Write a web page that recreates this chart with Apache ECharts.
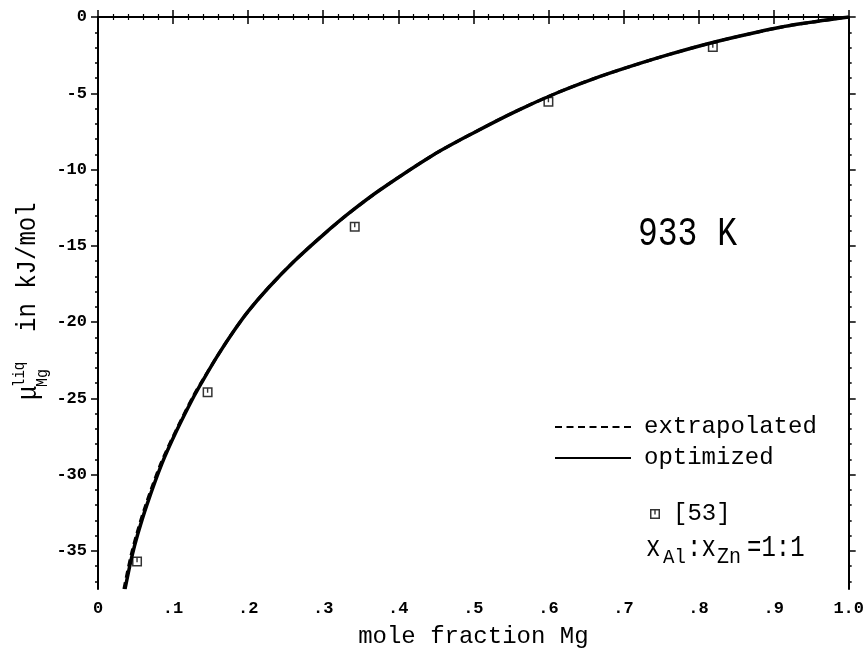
<!DOCTYPE html>
<html>
<head>
<meta charset="utf-8">
<script src="https://cdn.jsdelivr.net/npm/echarts@6/dist/echarts.min.js"></script>
<style>
  html, body { margin: 0; padding: 0; background: #fff; }
  #chart { width: 867px; height: 657px; }
</style>
</head>
<body>
<div id="chart"></div>
<script>
// Chemical potential of Mg in the liquid Al-Mg-Zn alloy at 933 K, x(Al):x(Zn) = 1:1
const FONT = 'Liberation Mono';

// optimized curve: mole fraction Mg and mu in kJ/mol
const optimizedX = [0.036, 0.045, 0.053, 0.065, 0.085, 0.105, 0.128, 0.14, 0.16, 0.18, 0.2, 0.227, 0.262, 0.30, 0.336,
                    0.375, 0.446, 0.5, 0.558, 0.615, 0.66, 0.704, 0.76, 0.815, 0.87, 0.925, 1.0];
const optimizedY = [-37.5, -35.4, -33.9, -32.0, -29.3, -27.1, -24.85, -23.8, -22.15, -20.65, -19.3, -17.75, -15.98, -14.28, -12.8,
                    -11.36, -9.06, -7.6, -6.15, -4.9, -4.05, -3.32, -2.47, -1.72, -1.08, -0.53, 0];

// extrapolated curve (nearly coincident with the optimized one)
const extrapolatedX = [0.0345, 0.0435, 0.0515, 0.0635, 0.0835, 0.104, 0.127, 0.1395, 0.16, 0.18, 0.2, 0.227, 0.262, 0.30, 0.336,
                       0.375, 0.446, 0.5, 0.558, 0.615, 0.66, 0.704, 0.76, 0.815, 0.87, 0.925, 1.0];
const extrapolatedY = [-37.5, -35.4, -33.9, -32.0, -29.3, -27.1, -24.85, -23.8, -22.15, -20.65, -19.3, -17.75, -15.98, -14.28, -12.8,
                       -11.36, -9.06, -7.6, -6.15, -4.9, -4.05, -3.32, -2.47, -1.72, -1.08, -0.53, 0];

// measured points, reference [53]
const measuredX = [0.052, 0.146, 0.342, 0.600, 0.819];
const measuredY = [-35.7, -24.6, -13.75, -5.55, -1.97];

// axis ticks
const yMajorTicks = [0, -5, -10, -15, -20, -25, -30, -35];
const yMinorTicks = [-1, -2, -3, -4, -6, -7, -8, -9, -11, -12, -13, -14, -16, -17, -18, -19,
                     -21, -22, -23, -24, -26, -27, -28, -29, -31, -32, -33, -34, -36, -37];

const zip = (xs, ys) => xs.map((x, i) => [x, ys[i]]);

// square marker with a short tick inside
const squareSymbol = 'path://M0,0H10V10H0Z M1.5,1.5V8.5H8.5V1.5Z M4.3,1.5H5.7V5.6H4.3Z';

const chart = echarts.init(document.getElementById('chart'), null, { renderer: 'canvas' });

const black = '#000';
const lineAxis = { show: true, lineStyle: { color: black, width: 2 } };

function yAxisDef(position, ticks, len, withLabels, showLine) {
  return {
    type: 'value', position, min: -37.5, max: 0,
    axisLine: showLine ? lineAxis : { show: false },
    axisTick: { show: true, inside: false, length: len, customValues: ticks, lineStyle: { color: black, width: 1.5 } },
    axisLabel: withLabels ? {
      show: true, customValues: ticks, margin: 11,
      fontFamily: FONT, fontSize: 17, fontWeight: 'bold', color: black,
      formatter: v => String(v)
    } : { show: false },
    splitLine: { show: false }
  };
}

function xAxisDef(position, withLabels) {
  return {
    type: 'value', position, min: 0, max: 1, interval: 0.1,
    axisLine: lineAxis,
    axisTick: { show: true, inside: false, length: 7, lineStyle: { color: black, width: 1.5 } },
    minorTick: { show: true, splitNumber: 5, length: 3, lineStyle: { color: black, width: 1.2 } },
    axisLabel: withLabels ? {
      show: true, margin: 11, fontFamily: FONT, fontSize: 17, fontWeight: 'bold', color: black,
      formatter: v => v === 0 ? '0' : (v >= 0.999 ? '1.0' : '.' + Math.round(v * 10))
    } : { show: false },
    splitLine: { show: false },
    minorSplitLine: { show: false },
    name: withLabels ? 'mole fraction Mg' : '',
    nameLocation: 'middle', nameGap: 36,
    nameTextStyle: { fontFamily: FONT, fontSize: 24, color: black }
  };
}

function txt(text, x, y, size, opt) {
  opt = opt || {};
  return {
    type: 'text', x, y,
    rotation: opt.rotation || 0,
    scaleY: opt.scaleY || 1,
    style: {
      text, fontFamily: FONT, fontSize: size, fill: black,
      fontWeight: opt.bold ? 'bold' : 'normal',
      align: opt.align || 'left', verticalAlign: 'middle'
    }
  };
}

const R = Math.PI / 2;
const legendText = { fontFamily: FONT, fontSize: 24, color: black, padding: [0, 0, 0, 8] };

const option = {
  backgroundColor: '#fff',
  animation: false,
  grid: { left: 98, right: 18, top: 17, bottom: 68, show: false },
  xAxis: [xAxisDef('bottom', true), xAxisDef('top', false)],
  yAxis: [
    yAxisDef('left', yMajorTicks, 7, true, true),
    yAxisDef('left', yMinorTicks, 3, false, false),
    yAxisDef('right', yMajorTicks, 7, false, true),
    yAxisDef('right', yMinorTicks, 3, false, false)
  ],
  legend: [
    {
      data: ['extrapolated', 'optimized'],
      orient: 'vertical', left: 549, top: 410,
      itemWidth: 76, itemHeight: 24, itemGap: 7,
      itemStyle: { opacity: 0 },
      textStyle: legendText
    },
    {
      data: ['[53]'],
      orient: 'vertical', left: 645, top: 497,
      itemWidth: 10, itemHeight: 10,
      textStyle: legendText
    }
  ],
  series: [
    {
      name: 'extrapolated', type: 'line', xAxisIndex: 0, yAxisIndex: 0,
      data: zip(extrapolatedX, extrapolatedY),
      smooth: 0.3, showSymbol: false, symbol: 'none',
      itemStyle: { color: black },
      lineStyle: { color: black, width: 3, type: [7, 4.5] },
      z: 2
    },
    {
      name: 'optimized', type: 'line', xAxisIndex: 0, yAxisIndex: 0,
      data: zip(optimizedX, optimizedY),
      smooth: 0.3, showSymbol: false, symbol: 'none',
      itemStyle: { color: black },
      lineStyle: { color: black, width: 3.5 },
      z: 3
    },
    {
      name: '[53]', type: 'scatter', xAxisIndex: 0, yAxisIndex: 0,
      data: zip(measuredX, measuredY),
      symbol: squareSymbol, symbolSize: 10,
      itemStyle: { color: black },
      z: 4
    }
  ],
  graphic: [
    // temperature
    txt('933 K', 638, 234, 33, { scaleY: 1.25 }),
    // composition ratio x_Al : x_Zn = 1:1
    txt('x', 646, 548, 24, { scaleY: 1.2 }),
    txt('Al', 663, 557, 19, { scaleY: 1.1 }),
    txt(':x', 687, 548, 24, { scaleY: 1.2 }),
    txt('Zn', 717, 557, 20, { scaleY: 1.1 }),
    txt('=1:1', 747, 548, 24, { scaleY: 1.2 }),
    // y-axis title: mu_Mg^liq in kJ/mol
    txt('μ', 29, 400, 24, { rotation: R, scaleY: 1.15 }),
    txt('liq', 20, 387, 14, { rotation: R, scaleY: 1.15 }),
    txt('Mg', 42, 387, 15, { rotation: R, scaleY: 1.15 }),
    txt('in kJ/mol', 28, 332, 24, { rotation: R, scaleY: 1.15 })
  ]
};

chart.setOption(option);
</script>
</body>
</html>
